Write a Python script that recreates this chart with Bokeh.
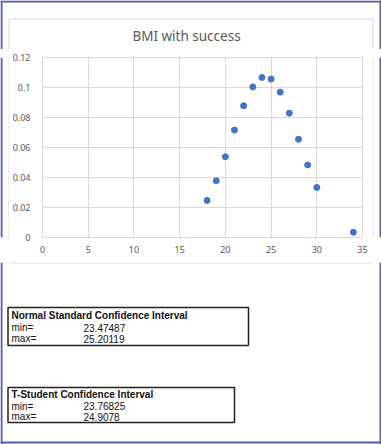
from bokeh.plotting import figure
from bokeh.models import Range1d, FixedTicker
from bokeh.layouts import column, row
from bokeh.embed import file_html
from bokeh.resources import INLINE
from bokeh.core.properties import value

# ---- data ----
bmi = [18, 19, 20, 21, 22, 23, 24, 25, 26, 27, 28, 29, 30, 34]
success = [0.0247, 0.0378, 0.0538, 0.0716, 0.0878, 0.1004, 0.1067,
           0.1056, 0.0969, 0.0829, 0.0655, 0.0484, 0.0333, 0.0035]
x_ticks = [0, 5, 10, 15, 20, 25, 30, 35]
y_ticks = [0, 0.02, 0.04, 0.06, 0.08, 0.1, 0.12]
y_tick_labels = ["0", "0.02", "0.04", "0.06", "0.08", "0.1", "0.12"]
title_text = "BMI with success"

table1_title = "Normal Standard Confidence Interval"
table1_labels = ["min=", "max="]
table1_values = ["23.47487", "25.20119"]
table2_title = "T-Student Confidence Interval"
table2_labels = ["min=", "max="]
table2_values = ["23.76825", "24.9078"]

W, H = 381, 444
TOP_H = 49          # band above the chart row
MID_H = 213         # chart row: 8 px headroom + frame (180) + x-axis band (25)
BOT_H = H - TOP_H - MID_H
SIDE_L, SIDE_R = 9, 9
PURPLE = "#5a5aa6"
BOXGRAY = "#d9d9d9"


def pixel_fig(w, h):
    f = figure(width=w, height=h, output_backend="svg", toolbar_location=None,
               x_range=Range1d(0, w), y_range=Range1d(h, 0),
               x_axis_type=None, y_axis_type=None, min_border=0)
    f.grid.visible = False
    f.outline_line_color = None
    f.background_fill_color = "white"
    f.border_fill_color = "white"
    f.title.visible = False
    return f


def vline(f, x, y0, y1, color, width):
    f.segment(x0=[x], y0=[y0], x1=[x], y1=[y1], line_color=color, line_width=width)


def hline(f, y, x0, x1, color, width):
    f.segment(x0=[x0], y0=[y], x1=[x1], y1=[y], line_color=color, line_width=width)


def txt(f, x, y, s, size, color, font, style="normal", align="left"):
    f.text(x=[x], y=[y], text=[s], text_font=value(font), text_font_size=size,
           text_color=color, text_font_style=style, text_align=align,
           text_baseline="middle")


# ---- top band: title, chart box top, outer border ----
top = pixel_fig(W, TOP_H)
hline(top, 1, 0, W, PURPLE, 2)
vline(top, 1, 0, TOP_H, PURPLE, 2)
vline(top, W - 1, 0, TOP_H, PURPLE, 2)
hline(top, 18.5, 8.5, 372.5, BOXGRAY, 1)
vline(top, 8.5, 18.5, TOP_H, BOXGRAY, 1)
vline(top, 372.5, 18.5, TOP_H, BOXGRAY, 1)
txt(top, 186, 35, title_text, "13.5px", "#595959", "Noto Sans", align="center")

# ---- side strips ----
left = pixel_fig(SIDE_L, MID_H)
vline(left, 1, 0, MID_H, PURPLE, 2)
vline(left, 8.5, 0, MID_H, BOXGRAY, 1)

right = pixel_fig(SIDE_R, MID_H)
vline(right, 0.5, 0, MID_H, BOXGRAY, 1)
vline(right, SIDE_R - 1, 0, MID_H, PURPLE, 2)

# ---- chart ----
CW = W - SIDE_L - SIDE_R
p = figure(width=CW, height=MID_H, output_backend="svg", toolbar_location=None,
           x_range=Range1d(0, 35), y_range=Range1d(0, 0.12),
           min_border_left=40 - SIDE_L, min_border_right=(W - SIDE_R) - 362,
           min_border_top=57 - TOP_H, min_border_bottom=TOP_H + MID_H - 237)
p.title.visible = False
p.background_fill_color = "white"
p.border_fill_color = "white"
p.outline_line_color = "#d9d9d9"

for ax in (p.xaxis[0], p.yaxis[0]):
    ax.axis_line_color = None
    ax.major_tick_line_color = None
    ax.minor_tick_line_color = None
    ax.major_label_text_color = "#595959"
    ax.major_label_text_font = "Noto Sans"
    ax.major_label_text_font_size = "9px"
p.xaxis.ticker = FixedTicker(ticks=x_ticks)
p.yaxis.ticker = FixedTicker(ticks=y_ticks)
p.yaxis.major_label_overrides = {t: l for t, l in zip(y_ticks, y_tick_labels)}
p.xaxis.major_label_standoff = 2
p.yaxis.major_label_standoff = 6

p.xgrid.ticker = FixedTicker(ticks=x_ticks)
p.ygrid.ticker = FixedTicker(ticks=y_ticks)
p.grid.grid_line_color = "#d9d9d9"
p.grid.grid_line_width = 1

p.scatter(bmi, success, marker="circle", size=6, fill_color="#4472c4",
          line_color="#4472c4")

# ---- bottom band: chart box bottom, tables, outer border ----
bot = pixel_fig(W, BOT_H)
y0 = TOP_H + MID_H  # canvas y of the bottom band's top edge
hline(bot, 262.5 - y0, 8.5, 372.5, BOXGRAY, 1)
vline(bot, 1, 0, BOT_H, PURPLE, 2)
vline(bot, W - 1, 0, BOT_H, PURPLE, 2)
hline(bot, 442 - y0, 0, W, PURPLE, 2)


def table(t, b, r, rows_y, title, labels, values):
    bot.quad(left=[7.5], right=[r], top=[t - y0], bottom=[b - y0],
             fill_color=None, line_color="#222222", line_width=1.5)
    txt(bot, 11, rows_y[0] - y0, title, "10px", "#111111", "Liberation Sans", "bold")
    for yy, lab, val in zip(rows_y[1:], labels, values):
        txt(bot, 11, yy - y0, lab, "10px", "#111111", "Liberation Sans")
        txt(bot, 83, yy - y0, val, "10px", "#111111", "Liberation Sans")


table(307, 345, 248, [315, 327, 338], table1_title, table1_labels, table1_values)
table(387, 422, 234, [394, 405.5, 416], table2_title, table2_labels, table2_values)

layout = column(top, row(left, p, right), bot)
open("out.html", "w").write(file_html(layout, INLINE))
